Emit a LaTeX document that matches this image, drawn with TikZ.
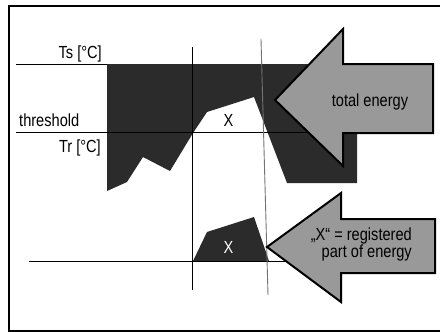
\documentclass[tikz,border=0pt]{standalone}
\usepackage{fontspec}
\setmainfont{Liberation Sans}
\usetikzlibrary{positioning}

\begin{document}
\begin{tikzpicture}[x=1pt, y=1pt,
    lbl/.style={font=\fontsize{14.6}{14.2}\selectfont, inner sep=0pt, yscale=1.2},
    area/.style={fill=black!83},
    bigarrow/.style={draw=black, line width=2pt, fill=black!40, line join=miter},
    axis/.style={line width=0.9pt}]
  \useasboundingbox (0,0) rectangle (440,-332);
  \clip (0,0) rectangle (440,-332);
  \draw[line width=2.2pt] (9,-6) rectangle (450,-331);
  % energy areas
  \fill[area] (107,-64) -- (357,-64) -- (357,-183) -- (287,-183) -- (254,-97)
    -- (207,-112) -- (193,-133) -- (170,-171) -- (143,-157) -- (127,-182)
    -- (107,-191) -- cycle;
  \fill[area] (193,-261) -- (207,-232) -- (254,-217) -- (269,-261) -- cycle;
  % levels and time marks
  \coordinate (ts0) at (16,-64);     \coordinate (ts1) at (107,-64);
  \coordinate (th0) at (16,-132);    \coordinate (th1) at (310,-132);
  \coordinate (b0) at (29,-261);     \coordinate (b1) at (292,-261);
  \coordinate (v1a) at (192,-47);    \coordinate (v1b) at (192,-290);
  \coordinate (v2a) at (261,-39);    \coordinate (v2b) at (268,-295);
  \draw[axis] (ts0) -- (ts1);
  \draw[axis] (th0) -- (th1);
  \draw[axis] (b0) -- (b1);
  \draw[axis] (v1a) -- (v1b);
  \draw[axis, draw=black!55] (v2a) -- (v2b);
  \node[lbl, anchor=base east] (ts) at (102,-59) {Ts [°C]};
  \node[lbl, anchor=base west] (thr) at (19,-126) {threshold};
  \node[lbl, anchor=base east] (tr) at (101,-152) {Tr [°C]};
  \node[lbl, anchor=base] (x1) at (228.5,-126) {X};
  \node[lbl, anchor=base, text=white] (x2) at (228.5,-253) {X};
  % arrows
  \draw[bigarrow] (275,-100) -- (343,-29) -- (343,-64) -- (433,-64)
    -- (433,-133) -- (343,-133) -- (343,-166) -- cycle;
  \node[lbl, anchor=base] (tot) at (370,-106) {total energy};
  \draw[bigarrow] (267,-247) -- (341,-193) -- (341,-219) -- (435,-219)
    -- (435,-273) -- (341,-273) -- (341,-302) -- cycle;
  \node[lbl, anchor=east, align=right] (reg) at (412,-244.6)
    {„X“ = registered\\part of energy};
\end{tikzpicture}
\end{document}
